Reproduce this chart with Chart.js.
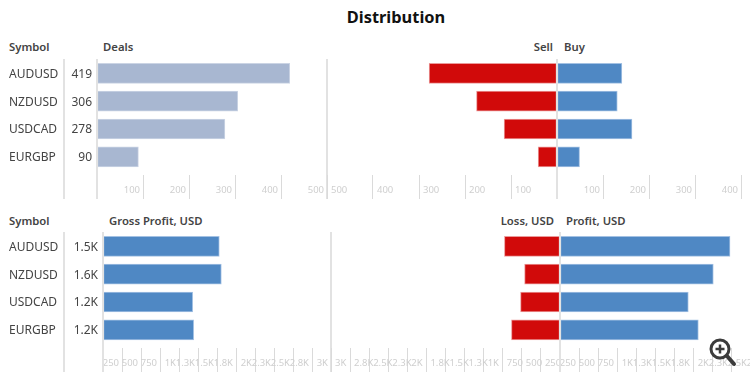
<!DOCTYPE html>
<html lang="en">
<head>
  <meta charset="UTF-8">
  <title>Distribution</title>
  <script src="https://cdn.jsdelivr.net/npm/chart.js"></script>
  <style>
    html, body { margin: 0; padding: 0; background: #fff; }
    #page { position: relative; width: 750px; height: 378px; overflow: hidden; font-family: "Noto Sans", sans-serif; }
    #page canvas { position: absolute; }
    .head { position: absolute; font-size: 11.3px; font-weight: 600; color: #444; white-space: nowrap; line-height: 14px; }
    #title { position: absolute; left: 0; top: 6px; width: 792px; text-align: center; font-size: 16.4px; font-weight: 700; color: #111; line-height: 22px; }
    #zoomIcon { position: absolute; left: 708px; top: 336px; }
  </style>
</head>
<body>
  <div id="page">
    <div id="title">Distribution</div>
    <span class="head" style="left:9px;top:40px">Symbol</span>
    <span class="head" style="left:103px;top:40px">Deals</span>
    <span class="head" style="right:197px;top:40px">Sell</span>
    <span class="head" style="left:564px;top:40px">Buy</span>
    <span class="head" style="left:9px;top:214px">Symbol</span>
    <span class="head" style="left:109px;top:214px">Gross Profit, USD</span>
    <span class="head" style="right:196px;top:214px">Loss, USD</span>
    <span class="head" style="left:566px;top:214px">Profit, USD</span>
    <canvas id="deals"></canvas>
    <canvas id="sell"></canvas>
    <canvas id="buy"></canvas>
    <canvas id="gross"></canvas>
    <canvas id="loss"></canvas>
    <canvas id="profit"></canvas>
    <!-- magnifier overlay from the original screenshot -->
    <svg id="zoomIcon" width="30" height="32" viewBox="0 0 30 32">
      <circle cx="12" cy="13" r="9" fill="#fff" stroke="#3c3c3c" stroke-width="3"/>
      <path d="M7.5 13h9M12 8.5v9" stroke="#3c3c3c" stroke-width="2.5"/>
      <path d="M19 20l7 8" stroke="#3c3c3c" stroke-width="4" stroke-linecap="round"/>
    </svg>
  </div>

  <script>
    // values
    const symbols = ["AUDUSD", "NZDUSD", "USDCAD", "EURGBP"];
    const deals = [419, 306, 278, 90];
    const sell = [278, 175, 115, 41];
    const buy = [141, 131, 163, 49];
    const grossProfit = [1530, 1557, 1180, 1193];
    const loss = [728, 464, 517, 636];
    const profit = [2237, 2017, 1688, 1820];

    const BLUE = "#4f88c4", BLUE_EDGE = "#a3c1e3";
    const RED = "#d10a0a", RED_EDGE = "#eb9a9a";
    const SLATE = "#a8b7d1", SLATE_EDGE = "#cbd4e4";
    const LINE = "#e2e2e2";
    const FONT = "Noto Sans";

    function kLabel(v) {
      if (v === 0) return "";
      return v >= 1000 ? +(v / 1000).toFixed(1) + "K" : String(v);
    }

    function place(id, left, top, width, height) {
      const c = document.getElementById(id);
      c.width = width;
      c.height = height;
      c.style.left = left + "px";
      c.style.top = top + "px";
      return c;
    }

    function xAxis(max, step, reverse) {
      return {
        axis: "x",
        type: "linear",
        min: 0,
        max: max,
        reverse: reverse,
        position: { y: 3.65 },
        border: { display: false },
        grid: { drawOnChartArea: false, tickLength: 24, tickColor: "#dadada" },
        ticks: {
          stepSize: step,
          autoSkip: false,
          maxRotation: 0,
          align: reverse ? "start" : "end",
          labelOffset: reverse ? 4 : -3,
          padding: -14,
          color: "#cfcfcf",
          font: { family: FONT, size: 9.5 },
          callback: kLabel
        }
      };
    }

    function yBase(extra) {
      return Object.assign({
        type: "category",
        axis: "y",
        offset: true,
        grid: { display: true, drawOnChartArea: false, drawTicks: false },
        border: { display: true, color: LINE, width: 2, z: 1 }
      }, extra);
    }

    // fixed column width, and no extra room above and below for the tick labels
    function fixedWidth(w) {
      return function (scale) {
        scale.width = w;
        scale.paddingTop = 0;
        scale.paddingBottom = 0;
      };
    }

    function drawBars(canvas, values, color, edge, scales, padding) {
      new Chart(canvas, {
        type: "bar",
        data: {
          labels: symbols.concat([""]),
          datasets: [{
            data: values,
            yAxisID: "y",
            backgroundColor: color,
            borderColor: edge,
            borderWidth: 1,
            borderSkipped: false,
            barThickness: 20
          }]
        },
        options: {
          indexAxis: "y",
          responsive: false,
          animation: false,
          layout: { padding: padding, autoPadding: false },
          plugins: { legend: { display: false }, tooltip: { enabled: false }, title: { display: false } },
          scales: scales
        }
      });
    }

    // left panel: symbol column, value column, then the bars
    function leftPanel(id, top, width, valueWidth, values, labels, color, edge, max, step) {
      const rowFont = { family: FONT, size: 12 };
      drawBars(place(id, 0, top, width, 141), values, color, edge, {
        x: xAxis(max, step, false),
        y: yBase({
          position: "left",
          weight: 1,
          afterFit: fixedWidth(55),
          ticks: { crossAlign: "far", padding: 0, labelOffset: 1, autoSkip: false, color: "#444", font: rowFont }
        }),
        yVal: yBase({
          position: "left",
          weight: 0,
          labels: labels.concat([""]),
          afterFit: fixedWidth(valueWidth),
          ticks: { padding: 5, labelOffset: 1, autoSkip: false, color: "#444", font: rowFont }
        }),
        // closing line on the far side of the bars
        yEnd: yBase({
          position: "right",
          afterFit: fixedWidth(0),
          ticks: { display: false }
        })
      }, { left: 9, right: 1, top: 0.5, bottom: 1.5 });
    }

    // middle panel grows to the left from its zero line, right panel to the right
    function sidePanel(id, left, top, width, values, color, edge, max, step, reverse) {
      drawBars(place(id, left, top, width, 141), values, color, edge, {
        x: xAxis(max, step, reverse),
        y: yBase({
          position: reverse ? "right" : "left",
          afterFit: fixedWidth(0),
          ticks: { display: false }
        })
      }, { left: 2, right: reverse ? 1 : 2, top: 0.5, bottom: 1.5 });
    }

    leftPanel("deals", 59, 328, 33, deals, deals.map(String), SLATE, SLATE_EDGE, 500, 100);
    sidePanel("sell", 325, 59, 233, sell, RED, RED_EDGE, 500, 100, true);
    sidePanel("buy", 555, 59, 234, buy, BLUE, BLUE_EDGE, 500, 100, false);

    leftPanel("gross", 232, 332, 39, grossProfit, grossProfit.map(kLabel), BLUE, BLUE_EDGE, 3000, 250);
    sidePanel("loss", 329, 232, 232, loss, RED, RED_EDGE, 3000, 250, true);
    sidePanel("profit", 558, 232, 232, profit, BLUE, BLUE_EDGE, 3000, 250, false);
  </script>
</body>
</html>
